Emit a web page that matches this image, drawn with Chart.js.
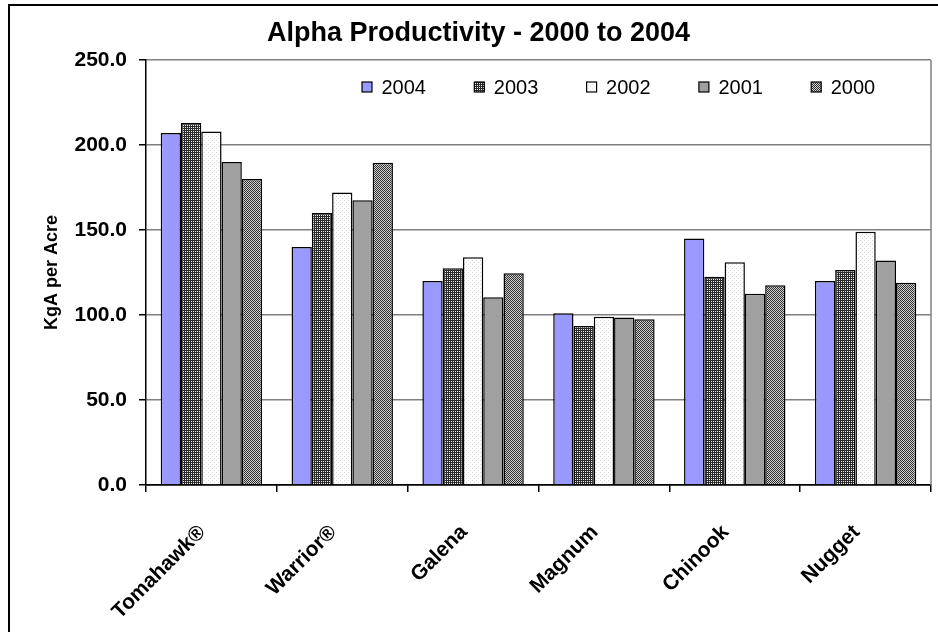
<!DOCTYPE html>
<html>
<head>
<meta charset="utf-8">
<script src="https://cdn.jsdelivr.net/npm/chart.js@4.4.1/dist/chart.umd.min.js"></script>
<style>
  html, body { margin: 0; padding: 0; background: #fff; overflow: hidden; }
  #wrap { position: relative; width: 938px; height: 632px; overflow: hidden; }
  #frame { position: absolute; left: 8px; top: 4px; width: 980px; height: 700px; border: 2px solid #000; box-sizing: border-box; pointer-events: none; }
  canvas { position: absolute; left: 0; top: 0; }
</style>
</head>
<body>
<div id="wrap">
  <canvas id="c" width="938" height="632"></canvas>
  <div id="frame"></div>
</div>
<script>
const categories = ['Tomahawk®', 'Warrior®', 'Galena', 'Magnum', 'Chinook', 'Nugget'];
const seriesNames = ['2004', '2003', '2002', '2001', '2000'];
const values2004 = [207, 140, 120, 101, 145, 120];
const values2003 = [213, 160, 127.5, 93.5, 122.5, 126.5];
const values2002 = [208, 172, 134, 99, 131, 149];
const values2001 = [190, 167.5, 110.5, 98.5, 112.5, 132];
const values2000 = [180, 189.5, 124.5, 97.5, 117.5, 119];
const yTickValues = [0, 50, 100, 150, 200, 250];
const chartTitle = 'Alpha Productivity - 2000 to 2004';
const yTitle = 'KgA per Acre';

const canvas = document.getElementById('c');
const ctx = canvas.getContext('2d');

function makePattern(size, painter) {
  const pc = document.createElement('canvas');
  pc.width = size; pc.height = size;
  const p = pc.getContext('2d');
  painter(p);
  return ctx.createPattern(pc, 'repeat');
}
const pat2003 = makePattern(2, p => {
  p.fillStyle = '#2a2a2a'; p.fillRect(0, 0, 2, 2);
  p.fillStyle = '#f0f0f0'; p.fillRect(1, 1, 1, 1);
});
const pat2002 = makePattern(4, p => {
  p.fillStyle = '#ffffff'; p.fillRect(0, 0, 4, 4);
  p.fillStyle = '#d8d8d8'; p.fillRect(0, 0, 1, 1); p.fillRect(2, 2, 1, 1);
});
const pat2000 = makePattern(2, p => {
  p.fillStyle = '#d0d0d0'; p.fillRect(0, 0, 2, 2);
  p.fillStyle = '#303030'; p.fillRect(0, 0, 1, 1); p.fillRect(1, 1, 1, 1);
});
const fills = ['#9999ff', pat2003, pat2002, '#a0a0a0', pat2000];
const seriesValues = [values2004, values2003, values2002, values2001, values2000];

const FONT = "'Liberation Sans', Arial, sans-serif";

// legend layout (style only)
const LEGEND = { x: 362, y: 87, step: 112.3, box: 10, textGap: 9.5, size: 20 };

const framePlugin = {
  id: 'framePlugin',
  afterLayout(chart) {
    const t = chart.titleBlock;
    if (t) { t.left += 13; t.right += 13; }
  },
  afterDatasetsDraw(chart) {
    const a = chart.chartArea;
    const c = chart.ctx;
    c.save();
    c.strokeStyle = '#808080';
    c.lineWidth = 1.5;
    c.beginPath();
    c.moveTo(a.right, a.top);
    c.lineTo(a.right, a.bottom);
    c.stroke();
    // legend from datasets
    c.font = LEGEND.size + 'px ' + FONT;
    c.textBaseline = 'middle';
    c.textAlign = 'left';
    chart.data.datasets.forEach((ds, i) => {
      const bx = LEGEND.x + i * LEGEND.step;
      const by = LEGEND.y - LEGEND.box / 2;
      c.fillStyle = ds.backgroundColor;
      c.fillRect(bx, by, LEGEND.box, LEGEND.box);
      c.strokeStyle = '#000';
      c.lineWidth = 1.2;
      c.strokeRect(bx, by, LEGEND.box, LEGEND.box);
      c.fillStyle = '#000';
      c.fillText(ds.label, bx + LEGEND.box + LEGEND.textGap, LEGEND.y + 1);
    });
    c.restore();
  }
};

new Chart(ctx, {
  type: 'bar',
  data: {
    labels: categories,
    datasets: seriesNames.map((n, i) => ({
      label: n,
      data: seriesValues[i],
      backgroundColor: fills[i],
      borderColor: '#000000',
      borderWidth: 1.5,
      borderSkipped: 'bottom',
      categoryPercentage: 0.775,
      barPercentage: 1.0
    }))
  },
  options: {
    responsive: false,
    devicePixelRatio: 1,
    animation: false,
    layout: { padding: { left: 0, right: 7, top: 0, bottom: 0 } },
    plugins: {
      title: {
        display: true,
        text: chartTitle,
        color: '#000',
        font: { family: FONT, size: 27, weight: 'bold' },
        padding: { top: 17, bottom: 10.6 }
      },
      legend: { display: false },
      tooltip: { enabled: false }
    },
    scales: {
      x: {
        offset: true,
        grid: {
          display: true,
          drawOnChartArea: false,
          drawTicks: true,
          tickLength: 7,
          color: '#000',
          tickColor: '#000',
          lineWidth: 1.5,
          offset: true
        },
        border: { display: true, color: '#000', width: 1.5 },
        ticks: {
          color: '#000',
          font: { family: FONT, size: 21, weight: 'bold' },
          minRotation: 45,
          maxRotation: 45,
          padding: 28,
          labelOffset: -9,
          autoSkip: false
        },
        afterFit(scale) { scale.height = 147; }
      },
      y: {
        min: 0,
        max: 250,
        afterBuildTicks(scale) { scale.ticks = yTickValues.map(v => ({ value: v })); },
        grid: {
          color: ctx => (ctx.tick && ctx.tick.value === 0 ? '#000' : '#808080'),
          lineWidth: 1.5,
          tickColor: '#000',
          tickLength: 7,
          drawTicks: true
        },
        border: { display: true, color: '#000', width: 1.5 },
        ticks: {
          color: '#000',
          font: { family: FONT, size: 21, weight: 'bold' },
          padding: 12,
          callback: v => Number(v).toFixed(1)
        },
        title: {
          display: true,
          text: yTitle,
          color: '#000',
          font: { family: FONT, size: 18, weight: 'bold' },
          padding: { top: 41, bottom: 0 }
        },
        afterFit(scale) { scale.width = 146; }
      }
    }
  },
  plugins: [framePlugin]
});
</script>
</body>
</html>
